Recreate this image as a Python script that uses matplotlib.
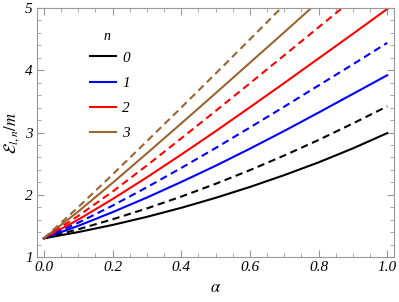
import numpy as np
import matplotlib
matplotlib.use("Agg")
import matplotlib.pyplot as plt
from matplotlib.ticker import MultipleLocator

plt.rcParams['font.family'] = ['Liberation Serif', 'DejaVu Serif']
plt.rcParams['mathtext.fontset'] = 'stix'

alpha = [0.0, 0.1, 0.2, 0.3, 0.4, 0.5, 0.6, 0.7, 0.8, 0.9, 1.0]

# solid curves (n = 0..3)
e0 = [1.30, 1.40, 1.515, 1.645, 1.79, 1.95, 2.125, 2.315, 2.52, 2.745, 2.99]
e1 = [1.30, 1.50, 1.72, 1.955, 2.205, 2.465, 2.74, 3.025, 3.32, 3.62, 3.92]
e2 = [1.30, 1.60, 1.93, 2.28, 2.645, 3.02, 3.405, 3.795, 4.19, 4.585, 4.985]
e3 = [1.30, 1.73, 2.19, 2.665, 3.145, 3.63, 4.12, 4.61, 5.105, 5.605, 6.105]

# dashed curves
d0 = [1.30, 1.445, 1.605, 1.78, 1.97, 2.175, 2.395, 2.63, 2.88, 3.145, 3.42]
d1 = [1.30, 1.55, 1.825, 2.12, 2.43, 2.75, 3.08, 3.415, 3.755, 4.095, 4.44]
d2 = [1.30, 1.66, 2.05, 2.47, 2.905, 3.345, 3.79, 4.24, 4.69, 5.14, 5.59]
d3 = [1.30, 1.80, 2.325, 2.86, 3.40, 3.945, 4.495, 5.05, 5.61, 6.17, 6.73]

n_labels = ["0", "1", "2", "3"]
colors = ["black", "#0000ff", "#ff0000", "#996633"]

fig = plt.figure(figsize=(3.99, 3.02), dpi=100)
ax = fig.add_axes([0.0927, 0.149, 0.895, 0.8245])

for ys, c, lab in zip([e0, e1, e2, e3], colors, n_labels):
    ax.plot(alpha, ys, color=c, lw=1.5, label=lab)
for ys, c in zip([d0, d1, d2, d3], colors):
    ax.plot(alpha, ys, color=c, lw=1.5, ls=(0, (3.5, 2.2)))

ax.set_xlim(-0.02, 1.02)
ax.set_ylim(1, 5)
ax.xaxis.set_major_locator(MultipleLocator(0.2))
ax.xaxis.set_minor_locator(MultipleLocator(0.05))
ax.yaxis.set_major_locator(MultipleLocator(1))
ax.yaxis.set_minor_locator(MultipleLocator(0.2))
ax.set_xticks([0.0, 0.2, 0.4, 0.6, 0.8, 1.0])
ax.set_xticklabels(["0.0", "0.2", "0.4", "0.6", "0.8", "1.0"])

for s in ax.spines.values():
    s.set_color("#999999")
    s.set_linewidth(0.8)
ax.tick_params(which="both", direction="in", top=True, right=True,
               color="#999999", labelsize=11, pad=3)
ax.tick_params(which="major", length=5)
ax.tick_params(which="minor", length=3)
for t in ax.get_xticklabels() + ax.get_yticklabels():
    t.set_fontstyle("italic")

ax.set_xlabel(r"$\alpha$", fontsize=12)
ax.set_ylabel(r"$\mathcal{E}_{l,n}/m$", fontsize=12, labelpad=2)

leg = ax.legend(loc="upper left", bbox_to_anchor=(0.111, 0.882), frameon=False,
                handlelength=1.7, handletextpad=0.4,
                labelspacing=0.75, fontsize=11)
for t in leg.get_texts():
    t.set_fontstyle("italic")
ax.text(0.196, 0.885, "n", transform=ax.transAxes, fontsize=10,
        fontstyle="italic", ha="center", va="center")

fig.savefig("out.png", dpi=100)
